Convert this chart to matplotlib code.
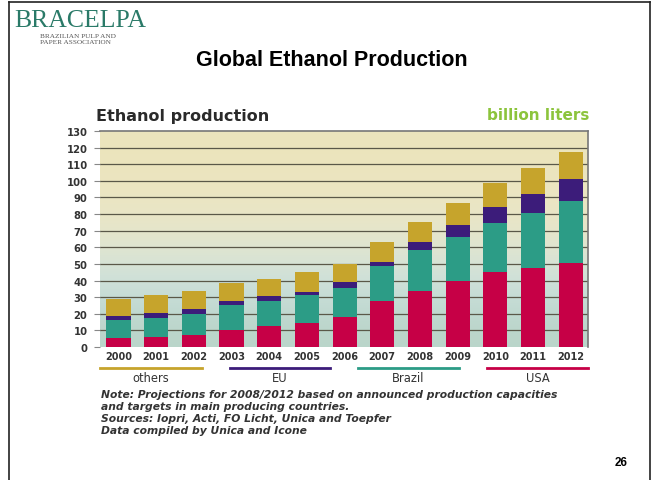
import matplotlib
matplotlib.use("Agg")
import matplotlib.pyplot as plt
import numpy as np
from matplotlib.lines import Line2D

years = ["2000", "2001", "2002", "2003", "2004", "2005", "2006",
         "2007", "2008", "2009", "2010", "2011", "2012"]
usa = [5.6, 6.2, 7.2, 10.0, 12.4, 14.6, 18.0, 27.6, 34.0, 39.8, 45.4, 47.4, 50.4]
brazil = [10.8, 11.4, 12.6, 15.0, 15.4, 16.4, 17.8, 21.0, 24.4, 26.6, 29.4, 33.4, 37.2]
eu = [2.0, 2.6, 3.0, 2.8, 3.0, 2.4, 3.6, 2.8, 4.6, 7.0, 9.6, 11.4, 13.8]
others = [10.4, 10.8, 10.8, 11.0, 10.2, 11.6, 10.6, 12.0, 12.0, 13.4, 14.2, 15.4, 16.0]
series = ["others", "EU", "Brazil", "USA"]
yticks = list(range(0, 131, 10))

_RED = "#c60046"
_GREEN = "#2c9c86"
_PURPLE = "#3c1c7a"
_GOLD = "#c6a42c"
_TEAL = "#2a7a68"

W, H = 653, 481
fig = plt.figure(figsize=(W / 100, H / 100), dpi=100)
fig.patch.set_facecolor("white")

# slide border
for xs, ys in [([9, 9], [481, 3]), ([650, 650], [481, 3]), ([9, 650], [3, 3])]:
    fig.add_artist(Line2D([v / W for v in xs], [1 - v / H for v in ys],
                          color="#222", lw=1.2))

# logo
fig.text(14 / W, 1 - 27 / H, "BRACELPA", family="Liberation Serif", fontsize=18.5,
         color=_TEAL, va="baseline", ha="left")
fig.text(40 / W, 1 - 36.5 / H, "BRAZILIAN PULP AND", family="Liberation Serif",
         fontsize=5.2, color="#555", va="center")
fig.text(40 / W, 1 - 42.5 / H, "PAPER ASSOCIATION", family="Liberation Serif",
         fontsize=5.2, color="#555", va="center")

fig.text(332 / W, 1 - 60 / H, "Global Ethanol Production", family="Liberation Sans",
         fontsize=15.5, weight="bold", ha="center", va="center")
fig.text(621 / W, 1 - 463 / H, "26", family="Liberation Sans", fontsize=8.5,
         weight="bold", ha="center", va="center")

ax = fig.add_axes([100 / W, 1 - 348 / H, 488 / W, 216 / H])
ax.set_xlim(-0.49, 12.46)
ax.set_ylim(0, 130)

# background gradient (top -> bottom)
grad = np.array([
    [0.925, 0.894, 0.737],
    [0.925, 0.900, 0.760],
    [0.900, 0.905, 0.800],
    [0.800, 0.880, 0.870],
    [0.730, 0.835, 0.790],
])
ax.imshow(grad[:, None, :], extent=[-0.49, 12.46, 0, 130], aspect="auto",
          interpolation="bicubic", zorder=0)

for t in yticks[1:-1]:
    ax.axhline(t, color="#5a5848", lw=0.9, zorder=1)

x = np.arange(len(years))
w = 0.64
bottom = np.zeros(len(years))
for vals, c in [(usa, _RED), (brazil, _GREEN), (eu, _PURPLE), (others, _GOLD)]:
    ax.bar(x, vals, w, bottom=bottom, color=c, zorder=2)
    bottom += np.array(vals)

ax.set_yticks(yticks)
ax.set_yticklabels([str(t) for t in yticks], fontsize=7.2, weight="bold",
                   color="#333", family="DejaVu Sans")
ax.tick_params(axis="y", length=4, width=0.8, color="#888", pad=5)
ax.set_xticks(x)
ax.set_xticklabels(years, fontsize=7, weight="bold", color="#333",
                   family="DejaVu Sans")
ax.tick_params(axis="x", length=0, pad=3)
for s in ["left", "bottom"]:
    ax.spines[s].set_visible(False)
ax.spines["top"].set_color("#777")
ax.spines["top"].set_linewidth(1.2)
ax.spines["right"].set_color("#777")
ax.spines["right"].set_linewidth(1.2)

fig.text(96 / W, 1 - 116 / H, "Ethanol production", family="DejaVu Sans",
         fontsize=11.5, weight="bold", color="#2a2a2a", va="center")
fig.text(589 / W, 1 - 116 / H, "billion liters", family="DejaVu Sans",
         fontsize=11, weight="bold", color="#8cc43c", va="center", ha="right")

# legend strips under the axis
leg = [(series[0], _GOLD, 100, 202), (series[1], _PURPLE, 230, 330),
       (series[2], _GREEN, 358, 459), (series[3], _RED, 487, 588)]
for name, c, x0, x1 in leg:
    fig.add_artist(Line2D([x0 / W, x1 / W], [1 - 369 / H] * 2, color=c, lw=2))
    fig.text((x0 + x1) / 2 / W, 1 - 379 / H, name,
             fontsize=8.3, color="#333", ha="center", va="center",
             family="DejaVu Sans")

notes = [
    "Note: Projections for 2008/2012 based on announced production capacities",
    "and targets in main producing countries.",
    "Sources: Iopri, Acti, FO Licht, Unica and Toepfer",
    "Data compiled by Unica and Icone",
]
for i, t in enumerate(notes):
    fig.text(101 / W, 1 - (395 + 12 * i) / H, t, fontsize=7.75, style="italic",
             weight="bold", color="#333", va="center", family="DejaVu Sans")

fig.savefig("out.png", dpi=100)
